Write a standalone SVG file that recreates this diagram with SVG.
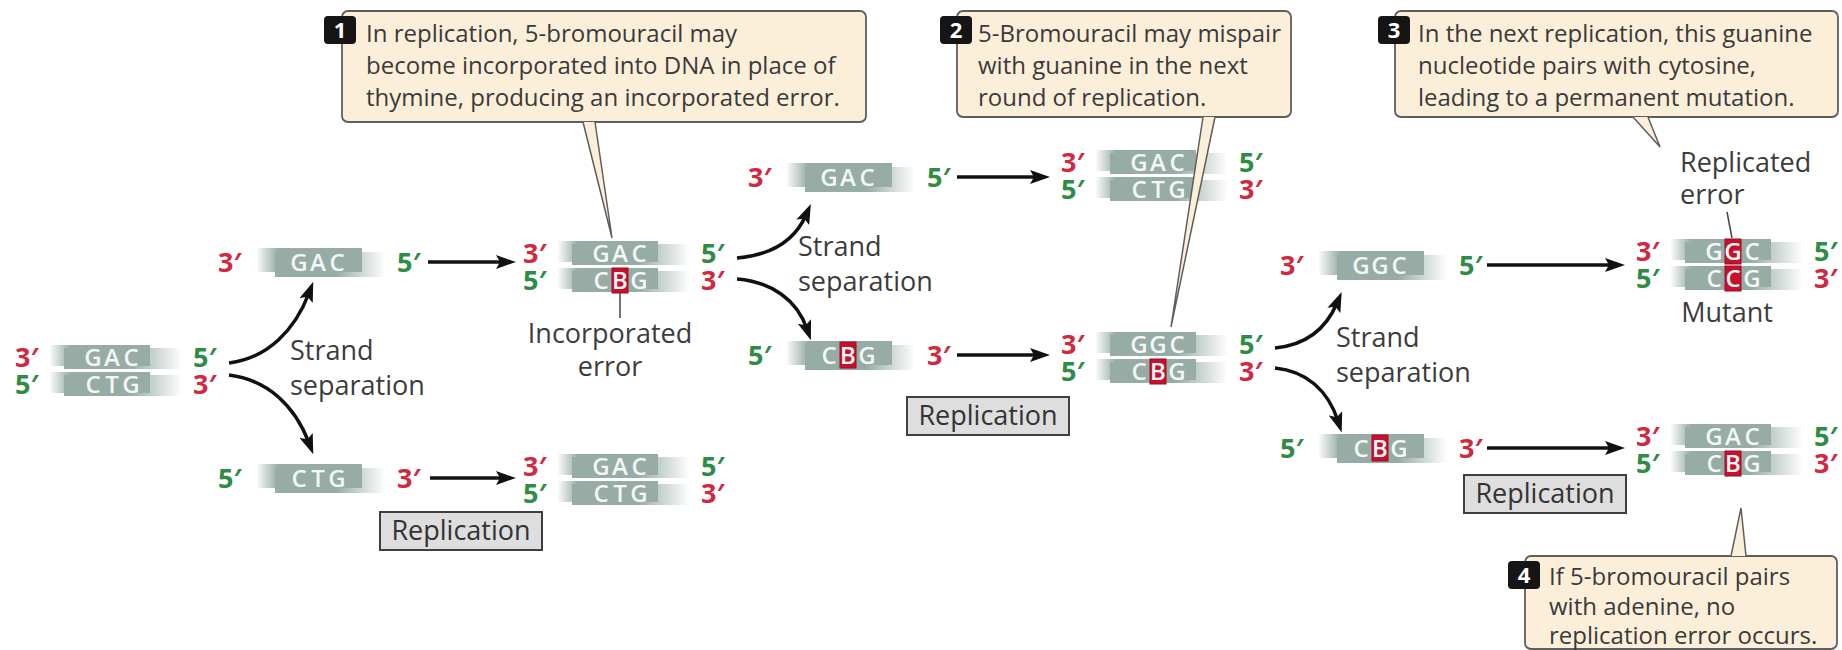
<svg xmlns="http://www.w3.org/2000/svg" xmlns:xlink="http://www.w3.org/1999/xlink" width="1842" height="650" viewBox="0 0 1842 650">
<style>
text { font-family: "Open Sans", "Liberation Sans", sans-serif; }
.lb { font-weight: 700; font-size: 27px; }
.r { fill: #cf2a3f; }
.g { fill: #2f8c45; }
.nt { font-weight: 600; font-size: 24px; fill: #f3f7f5; text-anchor: middle; }
.cap { font-size: 27px; fill: #3c3c3c; }
.note { font-size: 24px; fill: #3a3a3a; }
.box { fill: #fcefd9; stroke: #5e5e5e; stroke-width: 1.8; }
.ptr { fill: #fcefd9; stroke: #5e5e5e; stroke-width: 1.5; }
.bdg { fill: #151515; }
.bn { font-weight: 700; font-size: 22px; fill: #ffffff; text-anchor: middle; }
.rep { fill: #dedede; stroke: #3f3f3f; stroke-width: 2; }
.rept { font-size: 27px; fill: #333333; text-anchor: middle; }
.arr { fill: none; stroke: #111111; stroke-width: 3.5; marker-end: url(#ah); }
.hl { fill: #c8102e; stroke: #9a0d22; stroke-width: 1; }
.ln { stroke: #444444; stroke-width: 1.5; fill: none; }
</style>
<defs>
<linearGradient id="gl" x1="0" y1="0" x2="1" y2="0">
<stop offset="0" stop-color="#96aca5" stop-opacity="0.05"/>
<stop offset="0.2" stop-color="#96aca5"/>
<stop offset="1" stop-color="#96aca5"/>
</linearGradient>
<linearGradient id="gr" x1="0" y1="0" x2="1" y2="0">
<stop offset="0" stop-color="#96aca5"/>
<stop offset="0.55" stop-color="#96aca5"/>
<stop offset="1" stop-color="#96aca5" stop-opacity="0"/>
</linearGradient>
<g id="drow">
<rect x="0" y="-12" width="100" height="21" fill="url(#gl)"/>
<rect x="14" y="-9" width="118" height="21" fill="url(#gr)"/>
</g>
<g id="srow">
<rect x="0" y="-14" width="105" height="24" fill="url(#gl)"/>
<rect x="18" y="-10" width="110" height="25" fill="url(#gr)"/>
</g>
<marker id="ah" viewBox="0 0 20 14" markerWidth="20" markerHeight="14" refX="8" refY="7" orient="auto" markerUnits="userSpaceOnUse">
<path d="M0 0 L20 7 L0 14 L4 7 Z" fill="#111111"/>
</marker>
</defs>
<rect width="1842" height="650" fill="#ffffff"/>

<!-- connectors -->
<g id="connectors">
<path class="arr" d="M229 363 C268 358 295 330 309 293"/>
<path class="arr" d="M229 375 C268 380 295 406 309 443"/>
<path class="arr" d="M428 262 H504"/>
<path class="arr" d="M430 478 H504"/>
<path class="arr" d="M737 258 C772 255 795 240 806 215"/>
<path class="arr" d="M737 279 C772 282 797 300 807 329"/>
<path class="arr" d="M957 177 H1038"/>
<path class="arr" d="M957 355 H1038"/>
<path class="arr" d="M1275 348 C1306 345 1326 329 1337 303"/>
<path class="arr" d="M1275 368 C1306 371 1328 390 1338 421"/>
<path class="arr" d="M1487 265 H1613"/>
<path class="arr" d="M1487 448 H1613"/>
</g>

<g id="sep1"><text class="cap" x="290" y="360">Strand</text><text class="cap" x="290" y="395">separation</text></g>
<g id="sep2"><text class="cap" x="798" y="256">Strand</text><text class="cap" x="798" y="291">separation</text></g>
<g id="sep3"><text class="cap" x="1336" y="347">Strand</text><text class="cap" x="1336" y="382">separation</text></g>

<g id="rep1"><rect class="rep" x="380" y="512" width="162" height="38"/><text class="rept" x="461" y="540">Replication</text></g>
<g id="rep2"><rect class="rep" x="907" y="397" width="162" height="38"/><text class="rept" x="988" y="425">Replication</text></g>
<g id="rep3"><rect class="rep" x="1464" y="475" width="162" height="38"/><text class="rept" x="1545" y="503">Replication</text></g>

<g id="dupA" transform="translate(15,370)">
<use xlink:href="#drow" x="35" y="-13"/><use xlink:href="#drow" x="35" y="14"/>
<text class="lb r" x="0" y="-3">3′</text><text class="lb g" x="0" y="24">5′</text>
<text class="lb g" x="178" y="-3">5′</text><text class="lb r" x="178" y="24">3′</text>
<text class="nt" x="78 97 116" y="-4.5">GAC</text><text class="nt" x="78 97 116" y="22.5">CTG</text>
</g>

<g id="s1" transform="translate(218,262)">
<use xlink:href="#srow" x="39" y="0"/>
<text class="lb r" x="0" y="10">3′</text><text class="lb g" x="179" y="10">5′</text>
<text class="nt" x="81 100 119" y="8.5">GAC</text>
</g>

<g id="s2" transform="translate(218,478)">
<use xlink:href="#srow" x="39" y="0"/>
<text class="lb g" x="0" y="10">5′</text><text class="lb r" x="179" y="10">3′</text>
<text class="nt" x="81 100 119" y="8.5">CTG</text>
</g>

<g id="dupB" transform="translate(523,266)">
<use xlink:href="#drow" x="35" y="-13"/><use xlink:href="#drow" x="35" y="14"/>
<rect class="hl" x="89" y="2" width="16" height="25"/>
<text class="lb r" x="0" y="-3">3′</text><text class="lb g" x="0" y="24">5′</text>
<text class="lb g" x="178" y="-3">5′</text><text class="lb r" x="178" y="24">3′</text>
<text class="nt" x="78 97 116" y="-4.5">GAC</text><text class="nt" x="78 97 116" y="22.5">CBG</text>
</g>

<g id="incErr">
<line class="ln" x1="620" y1="293" x2="620" y2="318"/>
<text class="cap" x="610" y="343" text-anchor="middle">Incorporated</text>
<text class="cap" x="610" y="376" text-anchor="middle">error</text>
</g>

<g id="dupC" transform="translate(523,479)">
<use xlink:href="#drow" x="35" y="-13"/><use xlink:href="#drow" x="35" y="14"/>
<text class="lb r" x="0" y="-3">3′</text><text class="lb g" x="0" y="24">5′</text>
<text class="lb g" x="178" y="-3">5′</text><text class="lb r" x="178" y="24">3′</text>
<text class="nt" x="78 97 116" y="-4.5">GAC</text><text class="nt" x="78 97 116" y="22.5">CTG</text>
</g>

<g id="s3" transform="translate(748,177)">
<use xlink:href="#srow" x="39" y="0"/>
<text class="lb r" x="0" y="10">3′</text><text class="lb g" x="179" y="10">5′</text>
<text class="nt" x="81 100 119" y="8.5">GAC</text>
</g>

<g id="s4" transform="translate(748,355)">
<use xlink:href="#srow" x="39" y="0"/>
<rect class="hl" x="92" y="-13" width="16" height="26"/>
<text class="lb g" x="0" y="10">5′</text><text class="lb r" x="179" y="10">3′</text>
<text class="nt" x="81 100 119" y="8.5">CBG</text>
</g>

<g id="dupD" transform="translate(1061,175)">
<use xlink:href="#drow" x="35" y="-13"/><use xlink:href="#drow" x="35" y="14"/>
<text class="lb r" x="0" y="-3">3′</text><text class="lb g" x="0" y="24">5′</text>
<text class="lb g" x="178" y="-3">5′</text><text class="lb r" x="178" y="24">3′</text>
<text class="nt" x="78 97 116" y="-4.5">GAC</text><text class="nt" x="78 97 116" y="22.5">CTG</text>
</g>

<g id="dupE" transform="translate(1061,357)">
<use xlink:href="#drow" x="35" y="-13"/><use xlink:href="#drow" x="35" y="14"/>
<rect class="hl" x="89" y="2" width="16" height="25"/>
<text class="lb r" x="0" y="-3">3′</text><text class="lb g" x="0" y="24">5′</text>
<text class="lb g" x="178" y="-3">5′</text><text class="lb r" x="178" y="24">3′</text>
<text class="nt" x="78 97 116" y="-4.5">GGC</text><text class="nt" x="78 97 116" y="22.5">CBG</text>
</g>

<g id="s5" transform="translate(1280,265)">
<use xlink:href="#srow" x="39" y="0"/>
<text class="lb r" x="0" y="10">3′</text><text class="lb g" x="179" y="10">5′</text>
<text class="nt" x="81 100 119" y="8.5">GGC</text>
</g>

<g id="s6" transform="translate(1280,448)">
<use xlink:href="#srow" x="39" y="0"/>
<rect class="hl" x="92" y="-13" width="16" height="26"/>
<text class="lb g" x="0" y="10">5′</text><text class="lb r" x="179" y="10">3′</text>
<text class="nt" x="81 100 119" y="8.5">CBG</text>
</g>

<g id="dupF" transform="translate(1636,264)">
<use xlink:href="#drow" x="35" y="-13"/><use xlink:href="#drow" x="35" y="14"/>
<rect class="hl" x="89" y="-25" width="16" height="25"/>
<rect class="hl" x="89" y="2" width="16" height="25"/>
<text class="lb r" x="0" y="-3">3′</text><text class="lb g" x="0" y="24">5′</text>
<text class="lb g" x="178" y="-3">5′</text><text class="lb r" x="178" y="24">3′</text>
<text class="nt" x="78 97 116" y="-4.5">GGC</text><text class="nt" x="78 97 116" y="22.5">CCG</text>
</g>

<g id="repErr">
<text class="cap" x="1680" y="172">Replicated</text>
<text class="cap" x="1680" y="204">error</text>
<line class="ln" x1="1727" y1="212" x2="1732" y2="238"/>
</g>
<g id="mutant"><text class="cap" x="1727" y="322" text-anchor="middle">Mutant</text></g>

<g id="dupG" transform="translate(1636,449)">
<use xlink:href="#drow" x="35" y="-13"/><use xlink:href="#drow" x="35" y="14"/>
<rect class="hl" x="89" y="2" width="16" height="25"/>
<text class="lb r" x="0" y="-3">3′</text><text class="lb g" x="0" y="24">5′</text>
<text class="lb g" x="178" y="-3">5′</text><text class="lb r" x="178" y="24">3′</text>
<text class="nt" x="78 97 116" y="-4.5">GAC</text><text class="nt" x="78 97 116" y="22.5">CBG</text>
</g>

<g id="note1">
<rect class="box" x="342" y="11" width="524" height="111" rx="6"/>
<path class="ptr" d="M583 122 L612 238 L595 122"/>
<rect class="bdg" x="324" y="16" width="32" height="28" rx="4"/>
<text class="bn" x="340" y="38">1</text>
<text class="note" x="366" y="42">In replication, 5-bromouracil may</text>
<text class="note" x="366" y="74">become incorporated into DNA in place of</text>
<text class="note" x="366" y="106">thymine, producing an incorporated error.</text>
</g>

<g id="note2">
<rect class="box" x="957" y="11" width="334" height="106" rx="6"/>
<path class="ptr" d="M1203 117 L1171 327 L1215 117"/>
<rect class="bdg" x="940" y="16" width="32" height="28" rx="4"/>
<text class="bn" x="956" y="38">2</text>
<text class="note" x="978" y="42">5-Bromouracil may mispair</text>
<text class="note" x="978" y="74">with guanine in the next</text>
<text class="note" x="978" y="106">round of replication.</text>
</g>

<g id="note3">
<rect class="box" x="1395" y="11" width="443" height="106" rx="6"/>
<path class="ptr" d="M1633 117 L1660 147 L1648 117"/>
<rect class="bdg" x="1378" y="16" width="32" height="28" rx="4"/>
<text class="bn" x="1394" y="38">3</text>
<text class="note" x="1418" y="42">In the next replication, this guanine</text>
<text class="note" x="1418" y="74">nucleotide pairs with cytosine,</text>
<text class="note" x="1418" y="106">leading to a permanent mutation.</text>
</g>

<g id="note4">
<rect class="box" x="1525" y="556" width="312" height="93" rx="6"/>
<path class="ptr" d="M1731 556 L1741 508 L1746 556"/>
<rect class="bdg" x="1508" y="561" width="32" height="28" rx="4"/>
<text class="bn" x="1524" y="583">4</text>
<text class="note" x="1549" y="585">If 5-bromouracil pairs</text>
<text class="note" x="1549" y="615">with adenine, no</text>
<text class="note" x="1549" y="644">replication error occurs.</text>
</g>
</svg>
